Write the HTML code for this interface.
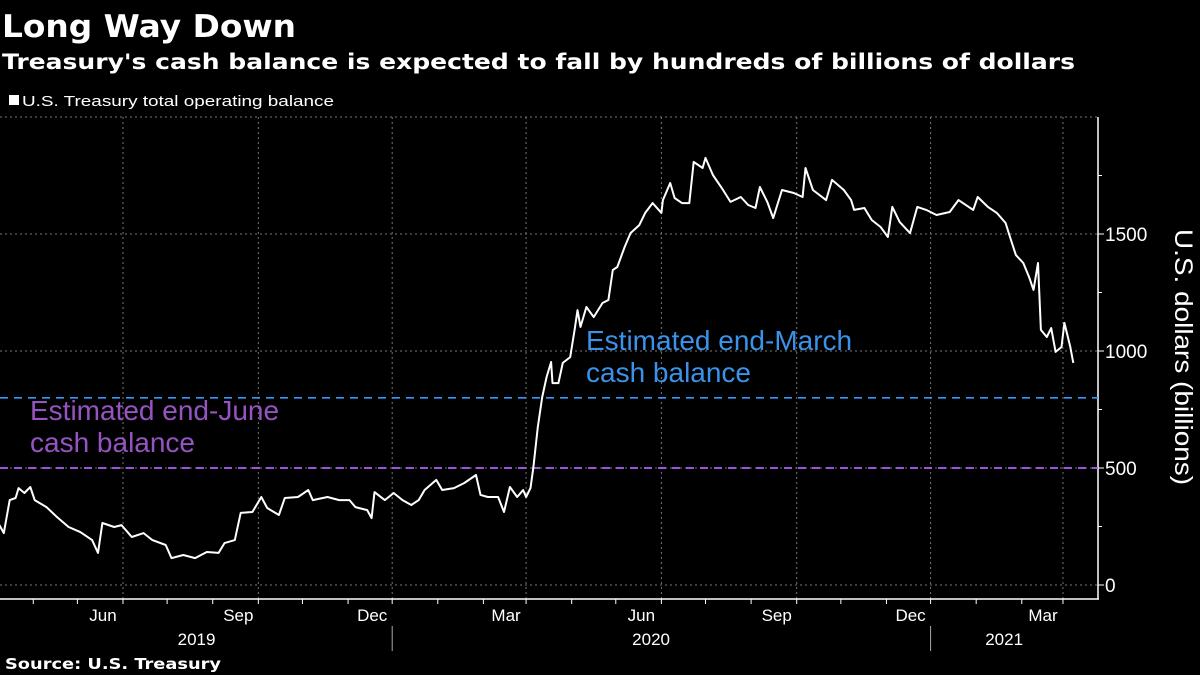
<!DOCTYPE html>
<html><head><meta charset="utf-8"><style>
html,body{margin:0;padding:0;background:#000;}
svg{display:block;font-family:"Liberation Sans Narrow","Liberation Sans",sans-serif;}
</style></head><body>
<svg id="chart" width="1200" height="675" viewBox="0 0 1200 675" xmlns="http://www.w3.org/2000/svg">
<rect width="1200" height="675" fill="#000"/>
<text x="2" y="37" fill="#fff" font-family="DejaVu Sans, sans-serif" font-weight="bold" font-size="31" textLength="294" lengthAdjust="spacingAndGlyphs">Long Way Down</text>
<text x="2" y="69" fill="#fff" font-family="DejaVu Sans, sans-serif" font-weight="bold" font-size="21" textLength="1073" lengthAdjust="spacingAndGlyphs">Treasury's cash balance is expected to fall by hundreds of billions of dollars</text>
<rect x="9" y="95" width="10" height="10" fill="#fff"/>
<text x="22" y="106" fill="#fff" font-size="15" textLength="312" lengthAdjust="spacingAndGlyphs">U.S. Treasury total operating balance</text>
<g id="grid"></g>
<g id="axes"></g>
<g id="refs"></g>
<path id="line" fill="none" stroke="#fff" stroke-width="2" stroke-linejoin="round"/>
<text transform="translate(1175,357) rotate(90)" text-anchor="middle" fill="#fff" font-size="25" textLength="256" lengthAdjust="spacingAndGlyphs">U.S. dollars (billions)</text>
<text x="5" y="669" fill="#fff" font-family="DejaVu Sans, sans-serif" font-weight="bold" font-size="15" textLength="216" lengthAdjust="spacingAndGlyphs">Source: U.S. Treasury</text>
</svg>
<script>
// days since 2019-06-01
const dayIndex=[-84,-81,-77,-73,-71,-67,-63,-60,-52,-45,-37,-29,-21,-17,-14,-6,-1,6,14,20,29,33,41,49,57,65,69,76,80,88,94,98,106,110,119,126,129,139,147,154,158,166,169,171,178,184,190,196,201,205,213,217,225,232,240,243,248,255,259,263,268,272,274,277,279,282,285,288,291,292,296,299,304,307,309,311,315,320,326,330,333,336,341,345,351,355,360,366,367,372,375,380,385,388,394,396,401,407,413,420,425,430,433,438,442,448,456,462,464,469,478,482,490,495,497,504,509,515,520,523,528,535,540,546,553,562,568,578,581,588,594,600,603,607,612,616,619,622,624,628,631,634,638,640,644,646];
const balance=[256,222,363,372,414,393,419,363,333,291,248,226,192,137,265,248,256,205,222,192,171,115,128,115,141,137,179,192,308,312,376,329,299,372,376,406,363,376,363,363,333,320,286,397,363,393,363,342,363,406,449,406,414,436,470,385,376,376,312,419,376,406,376,414,504,675,803,889,953,863,863,949,974,1090,1175,1103,1188,1145,1205,1218,1346,1359,1444,1504,1538,1590,1632,1590,1645,1718,1654,1632,1632,1808,1782,1825,1752,1697,1637,1658,1624,1611,1701,1637,1568,1688,1675,1658,1782,1688,1645,1731,1688,1645,1603,1611,1560,1530,1487,1616,1551,1504,1616,1603,1581,1594,1645,1603,1658,1616,1590,1547,1487,1410,1376,1316,1261,1376,1090,1060,1098,996,1017,1120,1017,949];
const yTicks=[0,500,1000,1500];
const yMinor=[250,750,1250,1750];
const refValues=[800,500];
const refLabels=[["Estimated end-March","cash balance"],["Estimated end-June","cash balance"]];
const monthLabels=["Jun","Sep","Dec","Mar","Jun","Sep","Dec","Mar"];
const monthDates=["2019-06-01","2019-09-01","2019-12-01","2020-03-01","2020-06-01","2020-09-01","2020-12-01","2021-03-01"];
const yearLabels=["2019","2020","2021"];
const yearCenters=["2019-07-21","2020-05-25","2021-01-20"];
const yearBreaks=["2019-12-01","2020-12-01"];

const NS="http://www.w3.org/2000/svg";
const base=Date.UTC(2019,5,1);
const dd=s=>{const p=s.split('-');return (Date.UTC(+p[0],p[1]-1,+p[2])-base)/864e5;};
const X=d=>123+d*1.471;
const Y=v=>585-v*0.234;
const mk=(t,a,parent)=>{const e=document.createElementNS(NS,t);for(const k in a)e.setAttribute(k,a[k]);parent.appendChild(e);return e;};
const grid=document.getElementById('grid'),axes=document.getElementById('axes'),refs=document.getElementById('refs');
const R=1098,TOP=117,BASE=599;
yTicks.concat([1900]).forEach(v=>{const y=v===1900?TOP:Y(v);
 const l=mk('line',{x1:0,x2:R,y1:y,y2:y,stroke:'#777','stroke-width':1,'stroke-dasharray':'2,3'},grid);
 
 });
monthDates.forEach(m=>{const x=X(dd(m));
 const l=mk('line',{x1:x,x2:x,y1:TOP,y2:BASE,stroke:'#777','stroke-width':1,'stroke-dasharray':'2,3'},grid);
 
 });
mk('line',{x1:0,x2:R+1,y1:BASE,y2:BASE,stroke:'#fff','stroke-width':1.5},axes);
mk('line',{x1:R,x2:R,y1:TOP,y2:BASE,stroke:'#fff','stroke-width':1.5},axes);
for(let yr=2019;yr<=2021;yr++)for(let mo=0;mo<12;mo++){const d=(Date.UTC(yr,mo,1)-base)/864e5;const x=X(d);if(x<0||x>R)continue;
 const t=mk('line',{x1:x,x2:x,y1:BASE,y2:BASE+5,stroke:'#fff','stroke-width':1},axes);
 
 }
monthDates.forEach((m,i)=>{const t=mk('text',{x:X(dd(m))-20,y:621,fill:'#fff','font-size':17,'text-anchor':'middle'},axes);t.textContent=monthLabels[i];
 
 });
yearLabels.forEach((s,i)=>{const t=mk('text',{x:X(dd(yearCenters[i])),y:645,fill:'#fff','font-size':17,'text-anchor':'middle'},axes);t.textContent=s;
 
 });
yearBreaks.forEach(b=>{const x=X(dd(b));
 const l=mk('line',{x1:x,x2:x,y1:626,y2:651,stroke:'#aaa','stroke-width':1},axes);
 
 });
yTicks.forEach(v=>{const y=Y(v);mk('line',{x1:R,x2:R+6,y1:y,y2:y,stroke:'#fff','stroke-width':1},axes);
 const t=mk('text',{x:R+7,y:y+7,fill:'#fff','font-size':19},axes);t.textContent=v;
 
 });
yMinor.forEach(v=>{const y=Y(v);const l=mk('line',{x1:R,x2:R+4,y1:y,y2:y,stroke:'#fff','stroke-width':1},axes);
 
 });
const refColors=['#3399ff','#b45cff'],txtColors=['#3a93ea','#9653c2'],labX=[586,30];
refValues.forEach((v,i)=>{const y=Y(v);
 const l=mk('line',{x1:0,x2:R,y1:y,y2:y,stroke:refColors[i],'stroke-width':1.7,'stroke-dasharray':'8,6'},refs);
 
 
 refLabels[i].forEach((s,j)=>{const t=mk('text',{x:labX[i],y:y-48+j*32,fill:txtColors[i],'font-size':28},refs);t.textContent=s;
  
  });});
document.getElementById('line').setAttribute('d',dayIndex.map((d,i)=>(i?'L':'M')+X(d).toFixed(1)+','+Y(balance[i]).toFixed(1)).join(''));
</script>
</body></html>
